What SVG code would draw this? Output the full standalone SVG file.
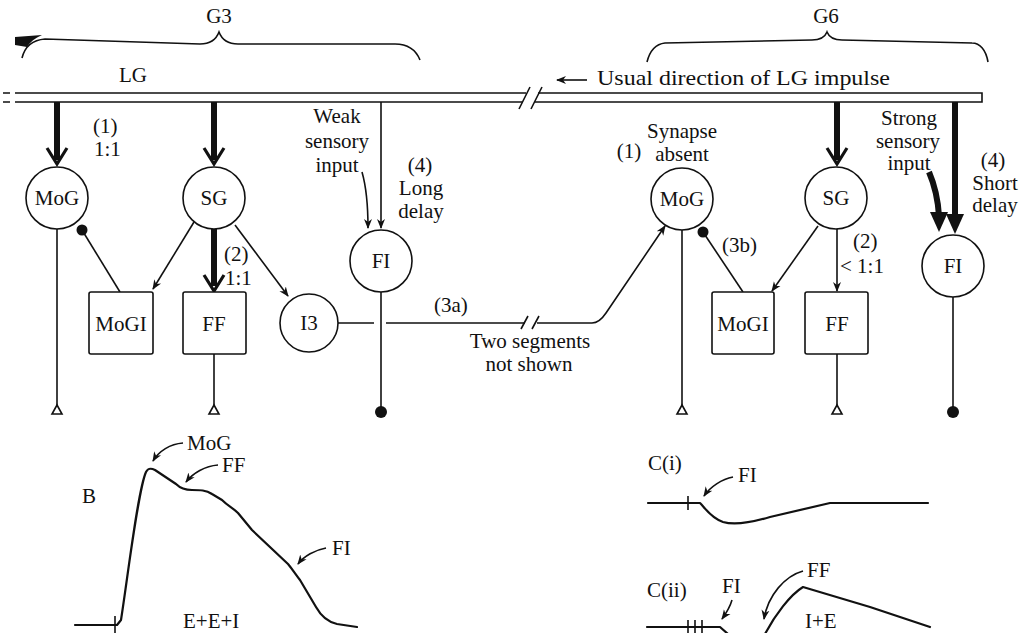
<svg xmlns="http://www.w3.org/2000/svg" width="1029" height="633" viewBox="0 0 1029 633">
<style>
text{font-family:"Liberation Serif","Times New Roman",serif;font-size:21px;fill:#111}
.c{text-anchor:middle}
.n{fill:#fff;stroke:#111;stroke-width:1.6}
.l{fill:none;stroke:#111;stroke-width:1.6}
.t{fill:none;stroke:#111;stroke-width:2.2;stroke-linejoin:round;stroke-linecap:round}
.k{fill:none;stroke:#111;stroke-width:6}
.v{fill:none;stroke:#111;stroke-width:3.2;stroke-linejoin:miter}
.f{fill:#111;stroke:none}
</style>
<defs>
<marker id="ah" viewBox="0 0 10 10" refX="9" refY="5" markerWidth="10" markerHeight="10" markerUnits="userSpaceOnUse" orient="auto"><path d="M0,1 L10,5 L0,9 L3,5 Z" fill="#111"/></marker>
<path id="tri" d="M0,0 L5,9 L-5,9 Z" fill="#fff" stroke="#111" stroke-width="1.6"/>
</defs>

<g id="braces">
<path class="l" d="M22,58 C25,46 32,40 45,39 L200,44 C210,44 216,40 219,32 C222,40 228,44 238,44 L395,44 C408,44 416,50 420,60"/>
<path class="f" d="M15,37 L42,35 C35,38 30,42 27,47 L15,45 Z"/>
<text class="c" x="219" y="23" font-size="20">G3</text>
<path class="l" d="M647,62 C650,50 656,44 665,43 L812,40 C820,40 825,37 827,32 C829,37 834,40 842,40 L972,43 C980,43 986,50 988,62"/>
<text class="c" x="826" y="23" font-size="20">G6</text>
</g>

<g id="LG">
<text class="c" x="133" y="82">LG</text>
<path class="l" d="M3,93 H10 M3,102 H10 M15,93 H526 M15,102 H523 M538,93 H982 V102 H535"/>
<path class="l" d="M519,109 L530,87 M531,109 L542,87"/>
<path class="l" d="M587,80 H557" marker-end="url(#ah)"/>
<text x="597" y="85" textLength="293" lengthAdjust="spacingAndGlyphs">Usual direction of LG impulse</text>
</g>

<g id="connectors">
<path class="k" d="M57,102 V160"/><path class="v" d="M47,148 L57,164 L67,148"/>
<path class="k" d="M214,102 V160"/><path class="v" d="M204,148 L214,164 L224,148"/>
<path class="k" d="M214,229 V286"/><path class="v" d="M204,275 L214,291 L224,275"/>
<path class="l" d="M194,222 L153,289" marker-end="url(#ah)"/>
<path class="l" d="M235,225 L288,296" marker-end="url(#ah)"/>
<path class="l" d="M120,292 L82,230"/><circle class="f" cx="82" cy="230" r="5.5"/>
<path class="l" d="M381,102 V228" marker-end="url(#ah)"/>
<path class="l" d="M362,172 C366,186 368,205 368,228" marker-end="url(#ah)"/>
<path class="l" d="M57,229 V405"/><use href="#tri" x="57" y="405"/>
<path class="l" d="M214,354 V405"/><use href="#tri" x="214" y="405"/>
<path class="l" d="M381,292 V412"/><circle class="f" cx="381" cy="412" r="6"/>
<path class="l" d="M338,323 H374 M386,323 H525 M537,323 H592 C598,323 602,319 606,313 L665,226" marker-end="url(#ah)"/>
<path class="l" d="M521,329 L528,316 M532,329 L539,316"/>
<path class="k" d="M837,102 V160"/><path class="v" d="M827,148 L837,164 L847,148"/>
<path class="l" d="M837,229 V291" marker-end="url(#ah)"/>
<path class="l" d="M818,226 L772,291" marker-end="url(#ah)"/>
<path class="l" d="M743,292 L703,232"/><circle class="f" cx="703" cy="232" r="5.5"/>
<path class="k" d="M955,102 V218"/><path class="f" d="M946,214 L955,234 L964,214 Z"/>
<path class="k" d="M929,172 C935,186 938,200 939,216"/><path class="f" d="M930,212 L939,232 L948,212 Z"/>
<path class="l" d="M682,230 V405"/><use href="#tri" x="682" y="405"/>
<path class="l" d="M837,354 V405"/><use href="#tri" x="837" y="405"/>
<path class="l" d="M953,297 V412"/><circle class="f" cx="953" cy="412" r="6"/>
</g>

<g id="labels">
<text x="93" y="133">(1)</text><text x="94" y="156">1:1</text>
<text x="224" y="261">(2)</text><text x="225" y="285">1:1</text>
<text class="c" x="337" y="123">Weak</text><text class="c" x="337" y="148">sensory</text><text class="c" x="337" y="172">input</text>
<text class="c" x="420" y="172">(4)</text><text class="c" x="421" y="195">Long</text><text class="c" x="421" y="218">delay</text>
<text x="434" y="312">(3a)</text>
<text class="c" x="530" y="348">Two segments</text><text class="c" x="529" y="371">not shown</text>
<text class="c" x="629" y="158">(1)</text><text class="c" x="682" y="138" font-size="20">Synapse</text><text class="c" x="682" y="161" font-size="20">absent</text>
<text x="722" y="252">(3b)</text>
<text x="853" y="248">(2)</text><text x="840" y="273">&lt; 1:1</text>
<text class="c" x="909" y="125">Strong</text><text class="c" x="908" y="148">sensory</text><text class="c" x="909" y="170">input</text>
<text class="c" x="993" y="167">(4)</text><text class="c" x="995" y="190">Short</text><text class="c" x="995" y="212">delay</text>
</g>

<g id="MoG-G3"><circle class="n" cx="57" cy="198" r="31"/><text class="c" x="57" y="205">MoG</text></g>
<g id="SG-G3"><circle class="n" cx="214" cy="198" r="31"/><text class="c" x="214" y="205">SG</text></g>
<g id="MoGI-G3"><rect class="n" x="89" y="292" width="64" height="62" rx="2"/><text class="c" x="121" y="331">MoGI</text></g>
<g id="FF-G3"><rect class="n" x="183" y="292" width="63" height="62" rx="2"/><text class="c" x="214" y="331">FF</text></g>
<g id="I3"><circle class="n" cx="309" cy="323" r="29"/><text class="c" x="309" y="330">I3</text></g>
<g id="FI-G3"><circle class="n" cx="381" cy="261" r="31"/><text class="c" x="381" y="268">FI</text></g>

<g id="MoG-G6"><circle class="n" cx="682" cy="199" r="31"/><text class="c" x="682" y="206">MoG</text></g>
<g id="SG-G6"><circle class="n" cx="836" cy="198" r="31"/><text class="c" x="836" y="205">SG</text></g>
<g id="MoGI-G6"><rect class="n" x="712" y="292" width="62" height="62" rx="2"/><text class="c" x="743" y="331">MoGI</text></g>
<g id="FF-G6"><rect class="n" x="805" y="292" width="63" height="62" rx="2"/><text class="c" x="837" y="331">FF</text></g>
<g id="FI-G6"><circle class="n" cx="953" cy="266" r="31"/><text class="c" x="953" y="273">FI</text></g>

<g id="traceB">
<text x="82" y="503" font-size="19">B</text>
<path class="t" d="M75,625 H117 L121,620 C128,575 138,490 146,472 C148,468 151,468 155,470 L176,484 C180,488 185,490 192,490 C200,490 206,490 212,494 L222,500 C228,506 233,508 238,513 L252,530 L288,564 C293,570 296,575 300,580 L316,607 C321,616 328,622 337,624 L357,627"/>
<path class="l" d="M115,616 V633"/>
<text x="187" y="450">MoG</text><path class="l" d="M183,443 C170,444 159,451 153,461" marker-end="url(#ah)"/>
<text x="222" y="472">FF</text><path class="l" d="M218,465 C205,466 193,473 186,482" marker-end="url(#ah)"/>
<text x="332" y="555">FI</text><path class="l" d="M326,548 C315,550 304,556 298,564" marker-end="url(#ah)"/>
<text x="183" y="628">E+E+I</text>
</g>

<g id="traceC">
<text x="648" y="470">C(i)</text>
<path class="t" d="M648,503 H700 C705,508 711,518 723,522 C733,525 750,523 770,517 L830,503 H928"/>
<path class="l" d="M688,496 V510"/>
<text x="738" y="482">FI</text><path class="l" d="M733,477 C722,479 710,487 704,496" marker-end="url(#ah)"/>
<text x="647" y="597">C(ii)</text>
<path class="t" d="M647,627 H720 L728,634"/>
<path class="l" d="M688,620 V633 M695,620 V633 M702,620 V633"/>
<path class="t" d="M765,634 C775,615 790,595 803,587 L870,607 L930,627"/>
<text x="722" y="593">FI</text><path class="l" d="M732,600 C730,607 727,612 722,619" marker-end="url(#ah)"/>
<text x="807" y="577">FF</text><path class="l" d="M803,571 C785,576 768,595 764,619" marker-end="url(#ah)"/>
<text x="805" y="628">I+E</text>
</g>
</svg>
